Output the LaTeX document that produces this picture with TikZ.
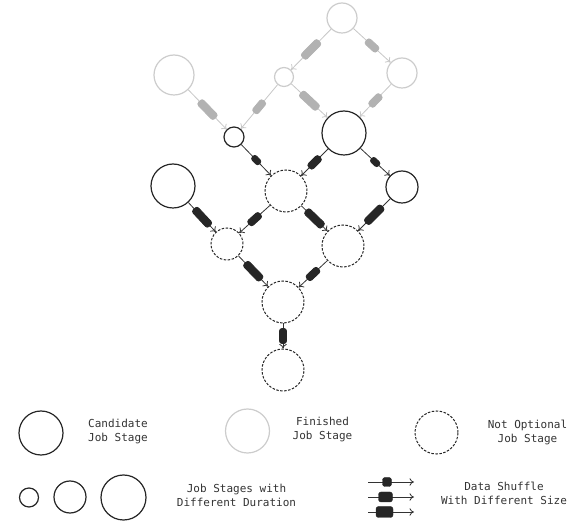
\documentclass[tikz,border=0pt]{standalone}
\usepackage{fontspec}
\setmonofont{DejaVu Sans Mono}
\usetikzlibrary{arrows.meta}
\begin{document}
\begin{tikzpicture}[x=1pt,y=-1pt,
 stage/.style={circle, inner sep=0pt, minimum size=#1, line width=1.2pt},
 cand/.style={stage=#1, draw=black!85},
 fin/.style={stage=#1, draw=black!20},
 nopt/.style={stage=#1, draw=black!85, line width=1pt, dash pattern=on 2.5pt off 1.5pt},
 bedge/.style={draw=black!80, line width=0.8pt, -{To[length=4.5pt,width=7.5pt]}},
 gedge/.style={draw=black!22, line width=0.8pt, -{To[length=4.5pt,width=7.5pt]}},
 blk/.style={rectangle, rounded corners=2.5pt, inner sep=0pt, sloped, pos=0.5, fill=black!85, draw=black!85},
 gblk/.style={blk, fill=black!30, draw=black!30},
 bs/.style={minimum width=10pt, minimum height=6pt},
 bm/.style={minimum width=15pt, minimum height=7pt},
 bl/.style={minimum width=23pt, minimum height=7.5pt},
 lblk/.style={rectangle, rounded corners=2.5pt, inner sep=0pt, fill=black!85, draw=black!85},
 lbl/.style={font=\ttfamily\fontsize{11}{14}\selectfont, align=center, text=black!80}
]
\useasboundingbox (0,0) rectangle (582,521);

% finished stages
\node[fin=30pt] (top) at (342,18) {};
\node[fin=40pt] (gL) at (174,75) {};
\node[fin=19pt] (gM) at (284,77) {};
\node[fin=30pt] (gR) at (402,73) {};
% candidate stages
\node[cand=20pt] (bS) at (234,137) {};
\node[cand=44pt] (bB) at (344,133) {};
\node[cand=44pt] (bL) at (173,186) {};
\node[cand=32pt] (bR) at (402,187) {};
% not optional stages
\node[nopt=42pt] (dA) at (286,191) {};
\node[nopt=32pt] (dL) at (227,244) {};
\node[nopt=42pt] (dR) at (343,246) {};
\node[nopt=42pt] (dB) at (283,302) {};
\node[nopt=42pt] (dE) at (283,370) {};

% gray shuffles
\draw[gedge] (top) -- node[gblk,bl]{} (gM);
\draw[gedge] (top) -- node[gblk,bm]{} (gR);
\draw[gedge] (gL) -- node[gblk,bl]{} (bS);
\draw[gedge] (gM) -- node[gblk,bm]{} (bS);
\draw[gedge] (gM) -- node[gblk,bl]{} (bB);
\draw[gedge] (gR) -- node[gblk,bm]{} (bB);
% black shuffles
\draw[bedge] (bS) -- node[blk,bs]{} (dA);
\draw[bedge] (bB) -- node[blk,bm]{} (dA);
\draw[bedge] (bB) -- node[blk,bs]{} (bR);
\draw[bedge] (bL) -- node[blk,bl]{} (dL);
\draw[bedge] (dA) -- node[blk,bm]{} (dL);
\draw[bedge] (dA) -- node[blk,bl]{} (dR);
\draw[bedge] (bR) -- node[blk,bl]{} (dR);
\draw[bedge] (dL) -- node[blk,bl]{} (dB);
\draw[bedge] (dR) -- node[blk,bm]{} (dB);
\draw[bedge] (dB) -- node[blk,bm]{} (dE);

% legend
\node[cand=44pt] (lc) at (41,433) {};
\node[lbl] (lct) at (118,432) {Candidate\\Job Stage};
\node[fin=44pt] (lf) at (247.5,431) {};
\node[lbl] (lft) at (322.5,430) {Finished\\Job Stage};
\node[nopt=43pt] (ln) at (436.5,432.5) {};
\node[lbl] (lnt) at (527.5,432) {Not Optional\\Job Stage};

\node[cand=19pt] (ls1) at (29,497.5) {};
\node[cand=32pt] (ls2) at (70,497) {};
\node[cand=45pt] (ls3) at (123.5,497.5) {};
\node[lbl] (lst) at (236.5,495) {Job Stages with\\Different Duration};

\coordinate (a1s) at (368,482); \coordinate (a1e) at (414,482);
\coordinate (a2s) at (368,497); \coordinate (a2e) at (414,497);
\coordinate (a3s) at (368,512); \coordinate (a3e) at (414,512);
\draw[bedge] (a1s) -- (a1e);
\draw[bedge] (a2s) -- (a2e);
\draw[bedge] (a3s) -- (a3e);
\node[lblk, minimum width=9pt, minimum height=9pt] (lb1) at (387,482) {};
\node[lblk, minimum width=14pt, minimum height=10pt] (lb2) at (385.5,497) {};
\node[lblk, minimum width=17pt, minimum height=11pt] (lb3) at (384.5,512) {};
\node[lbl] (lbt) at (504,493) {Data Shuffle\\With Different Size};
\end{tikzpicture}
\end{document}
